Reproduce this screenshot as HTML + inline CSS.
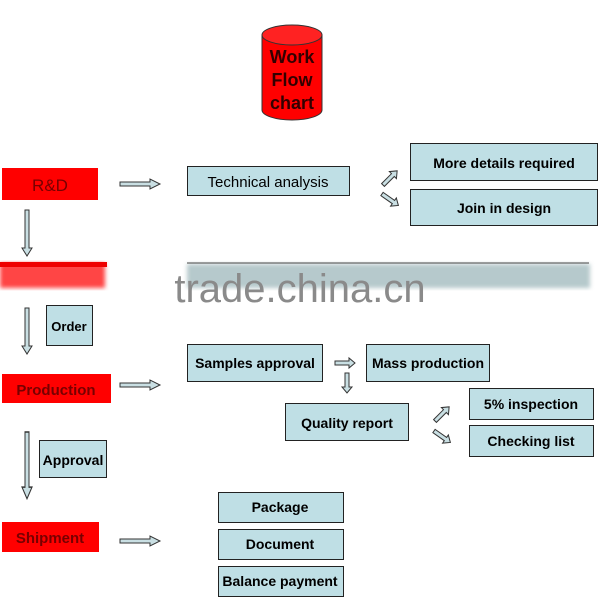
<!DOCTYPE html>
<html><head><meta charset="utf-8"><style>
body{margin:0;background:#fff}
svg{display:block}
text{font-family:"Liberation Sans",Arial,sans-serif;font-weight:bold}
</style></head><body>
<svg width="600" height="600" viewBox="0 0 600 600" xmlns="http://www.w3.org/2000/svg">
<defs>
<filter id="bl"><feGaussianBlur stdDeviation="2"/></filter>
<g id="ar"><path d="M0,-2 H30 V-5 L40,0 L30,5 V2 H0 Z" fill="#c9dfe3" stroke="#333" stroke-width="1"/></g>
<g id="ad"><path d="M-2,0 V38 H-5 L0,46 L5,38 H2 V0 Z" fill="#c9dfe3" stroke="#333" stroke-width="1"/></g>
<g id="as"><path d="M0,-2 H14 V-5 L20,0 L14,5 V2 H0 Z" fill="#c9dfe3" stroke="#333" stroke-width="1"/></g>
</defs>
<!-- cylinder -->
<path d="M262,35 V110 A30,10 0 0 0 322,110 V35 Z" fill="#f00" stroke="#333"/>
<ellipse cx="292" cy="35" rx="30" ry="10" fill="#f22" stroke="#333"/>
<text x="292" y="63" font-size="18" text-anchor="middle" fill="#300">Work</text>
<text x="292" y="86" font-size="18" text-anchor="middle" fill="#300">Flow</text>
<text x="292" y="109" font-size="18" text-anchor="middle" fill="#300">chart</text>
<!-- red boxes -->
<rect x="2" y="168" width="96" height="32" fill="#f00"/>
<text x="50" y="191" font-size="17" text-anchor="middle" fill="#700" style="font-weight:normal">R&amp;D</text>
<rect x="2" y="374" width="109" height="29" fill="#f00"/>
<text x="56" y="395" font-size="15" text-anchor="middle" fill="#700">Production</text>
<rect x="2" y="522" width="97" height="30" fill="#f00"/>
<text x="50" y="543" font-size="15" text-anchor="middle" fill="#700">Shipment</text>
<!-- blurred bars -->
<g filter="url(#bl)">
<rect x="0" y="263" width="105" height="25" fill="#f44"/>
<rect x="187" y="264" width="403" height="24" fill="#b6c9cc"/>
</g>
<rect x="0" y="262" width="107" height="5" fill="#e00"/>
<line x1="187" y1="263" x2="589" y2="263" stroke="#444"/>
<text x="300" y="302" font-size="40" text-anchor="middle" fill="#8a8a8a" style="font-weight:normal">trade.china.cn</text>
<!-- blue boxes -->
<g fill="#bfdfe5" stroke="#222" stroke-width="1">
<rect x="187.5" y="166.5" width="162" height="29"/>
<rect x="410.5" y="143.5" width="187" height="37"/>
<rect x="410.5" y="189.5" width="187" height="36"/>
<rect x="46.5" y="305.5" width="46" height="40"/>
<rect x="187.5" y="344.5" width="135" height="37"/>
<rect x="366.5" y="344.5" width="123" height="37"/>
<rect x="285.5" y="403.5" width="123" height="37"/>
<rect x="469.5" y="388.5" width="124" height="31"/>
<rect x="469.5" y="425.5" width="124" height="31"/>
<rect x="39.5" y="440.5" width="67" height="37"/>
<rect x="218.5" y="492.5" width="125" height="30"/>
<rect x="218.5" y="529.5" width="125" height="30"/>
<rect x="218.5" y="566.5" width="125" height="30"/>
</g>
<g fill="#000" text-anchor="middle">
<text x="268" y="187" font-size="15" style="font-weight:normal">Technical analysis</text>
<text x="504" y="168" font-size="14">More details required</text>
<text x="504" y="213" font-size="14">Join in design</text>
<text x="69" y="331" font-size="13">Order</text>
<text x="255" y="368" font-size="14">Samples approval</text>
<text x="428" y="368" font-size="14">Mass production</text>
<text x="347" y="428" font-size="14">Quality report</text>
<text x="531" y="409" font-size="14">5% inspection</text>
<text x="531" y="446" font-size="14">Checking list</text>
<text x="73" y="465" font-size="14">Approval</text>
<text x="280" y="512" font-size="14">Package</text>
<text x="280" y="549" font-size="14">Document</text>
<text x="280" y="586" font-size="14">Balance payment</text>
</g>
<!-- arrows -->
<use href="#ar" x="120" y="184"/>
<use href="#ar" x="120" y="385"/>
<use href="#ar" x="120" y="541"/>
<use href="#ad" x="27" y="210"/>
<use href="#ad" x="27" y="308"/>
<g transform="translate(27,432) scale(1,1.45)"><use href="#ad"/></g>
<use href="#as" x="335" y="363"/>
<g transform="translate(347,373) rotate(90)"><use href="#as"/></g>
<g transform="translate(383,185) rotate(-45)"><use href="#as"/></g>
<g transform="translate(382,194) rotate(35)"><use href="#as"/></g>
<g transform="translate(435,421) rotate(-45)"><use href="#as"/></g>
<g transform="translate(434,431) rotate(35)"><use href="#as"/></g>
</svg>
</body></html>
